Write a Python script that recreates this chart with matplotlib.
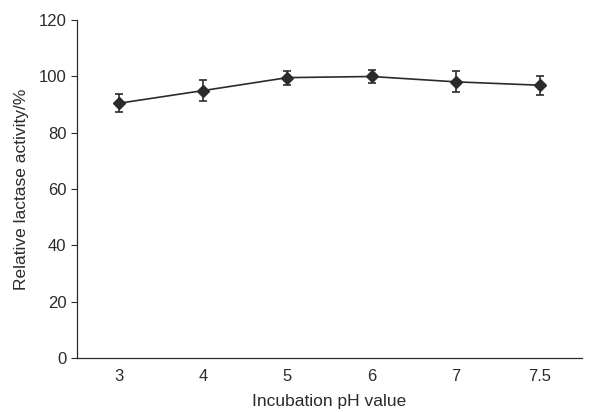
import numpy as np
import matplotlib
matplotlib.use('Agg')
from matplotlib import pyplot as plt

ph_labels = ['3', '4', '5', '6', '7', '7.5']
activity = [90.5, 95.0, 99.6, 100.0, 98.1, 96.9]
err = [3.2, 3.6, 2.5, 2.2, 3.7, 3.3]

plt.rcParams['font.family'] = ['Liberation Sans', 'DejaVu Sans']
COLOR = '#2b2b2b'

fig = plt.figure(figsize=(6.11, 4.12), dpi=100)
ax = fig.add_axes([0.126, 0.131, 0.8265, 0.820])

x = np.arange(len(ph_labels))
ax.errorbar(x, activity, yerr=err, color=COLOR, marker='D', markersize=6.5,
            lw=1.2, elinewidth=1.2, capsize=3, capthick=1.2)

ax.set_xlim(-0.5, len(ph_labels) - 0.5)
ax.set_ylim(0, 120)
ax.set_xticks(x)
ax.set_xticklabels(ph_labels)
ax.set_yticks(np.arange(0, 121, 20))
ax.tick_params(axis='x', length=0, pad=8, labelsize=12, colors=COLOR)
ax.tick_params(axis='y', length=4, width=0.8, labelsize=12, colors=COLOR)
ax.spines['top'].set_visible(False)
ax.spines['right'].set_visible(False)
for s in ['left', 'bottom']:
    ax.spines[s].set_color(COLOR)
    ax.spines[s].set_linewidth(0.9)

ax.set_xlabel('Incubation pH value', fontsize=12.5, color=COLOR, labelpad=7)
ax.set_ylabel('Relative lactase activity/%', fontsize=12.5, color=COLOR, labelpad=7)

fig.savefig('out.png', dpi=100)
